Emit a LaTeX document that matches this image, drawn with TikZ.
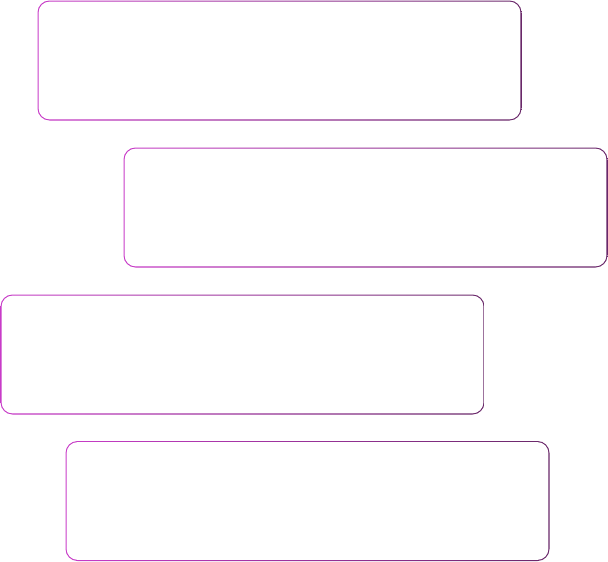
\documentclass[tikz,border=0pt]{standalone}
\usetikzlibrary{positioning}

\definecolor{edgeleft}{RGB}{200,60,200}
\definecolor{edgeright}{RGB}{105,40,105}

\tikzset{
    frame/.style={rectangle,rounded corners=12pt,minimum width=484pt,minimum height=120pt,
        inner sep=0pt,left color=edgeleft,right color=edgeright},
    hollow/.style={rectangle,rounded corners=11pt,minimum width=481.8pt,minimum height=117.8pt,
        inner sep=0pt,fill=white}
}

\begin{document}
\begin{tikzpicture}[x=1pt,y=-1pt]
        \useasboundingbox (0,0) rectangle (608,562);

        \foreach \n/\x/\y in {1/279.5/60.5, 2/365.5/207.5, 3/242.5/354.5, 4/307.5/501} {
            \node[frame] (B\n) at (\x,\y) {} ;
            \node[hollow] (I\n) at (B\n.center) {} ;
        }

    \end{tikzpicture}
\end{document}
